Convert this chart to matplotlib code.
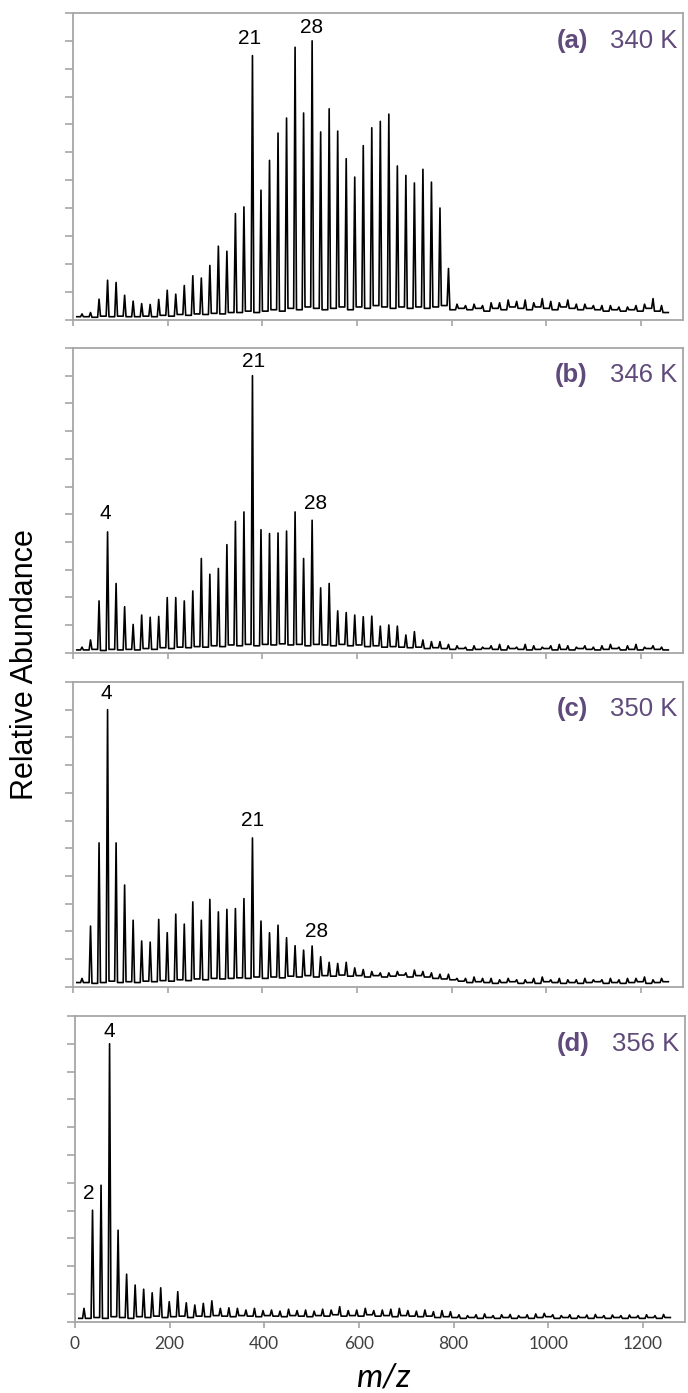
import numpy as np
import matplotlib.pyplot as plt

# water cluster size n -> m/z of (H2O)nH+
cluster_n = np.arange(1, 70)
mz_peaks = 18.01 * cluster_n + 1.01
mz_start, mz_end = 8, 1258

temps = ['340 K', '346 K', '350 K', '356 K']
tags = ['(a)', '(b)', '(c)', '(d)']

# peak heights (tick units, 0..11) for n = 1..69
peaks_340 = [0.2, 0.25, 0.73, 1.41, 1.33, 0.87, 0.66, 0.57, 0.54, 0.72,
             1.05, 0.91, 1.22, 1.57, 1.49, 1.94, 2.63, 2.45, 3.80, 4.04,
             9.47, 4.64, 5.71, 6.69, 7.23, 9.77, 7.41, 10.0, 6.73, 7.56,
             6.76, 5.77, 5.11, 6.24, 6.88, 7.11, 7.37, 5.51, 5.17, 4.90,
             5.39, 4.93, 4.00, 1.83, 0.55, 0.5, 0.55, 0.5, 0.6, 0.6,
             0.7, 0.65, 0.7, 0.6, 0.75, 0.65, 0.6, 0.7, 0.55, 0.55,
             0.5, 0.5, 0.5, 0.45, 0.45, 0.5, 0.55, 0.75, 0.5]
peaks_346 = [0.2, 0.46, 1.87, 4.36, 2.50, 1.66, 1.02, 1.36, 1.28, 1.31,
             1.99, 1.99, 1.87, 2.23, 3.40, 2.83, 3.04, 3.90, 4.74, 5.08,
             10.0, 4.44, 4.30, 4.32, 4.39, 5.08, 3.40, 4.78, 2.34, 2.50,
             1.51, 1.45, 1.36, 1.30, 1.32, 0.96, 1.0, 0.96, 0.64, 0.76,
             0.46, 0.40, 0.40, 0.3, 0.25, 0.2, 0.25, 0.2, 0.25, 0.3,
             0.25, 0.2, 0.3, 0.25, 0.2, 0.25, 0.3, 0.25, 0.2, 0.25,
             0.2, 0.25, 0.3, 0.2, 0.25, 0.3, 0.2, 0.25, 0.2]
peaks_350 = [0.3, 2.19, 5.19, 10.0, 5.19, 3.67, 2.40, 1.65, 1.61, 2.43,
             1.95, 2.62, 2.26, 3.06, 2.40, 3.15, 2.70, 2.79, 2.82, 3.18,
             5.37, 2.37, 1.95, 2.22, 1.77, 1.48, 1.32, 1.47, 1.08, 0.88,
             0.84, 0.88, 0.68, 0.62, 0.55, 0.5, 0.5, 0.55, 0.5, 0.6,
             0.55, 0.5, 0.45, 0.45, 0.3, 0.3, 0.35, 0.3, 0.3, 0.25,
             0.3, 0.25, 0.25, 0.3, 0.35, 0.25, 0.3, 0.25, 0.25, 0.3,
             0.25, 0.25, 0.3, 0.25, 0.3, 0.3, 0.35, 0.25, 0.3]
peaks_356 = [0.48, 4.01, 4.91, 10.0, 3.29, 1.71, 1.32, 1.17, 1.04, 1.22,
             0.72, 1.08, 0.68, 0.60, 0.66, 0.75, 0.48, 0.5, 0.48, 0.42,
             0.48, 0.4, 0.42, 0.38, 0.45, 0.4, 0.42, 0.38, 0.45, 0.42,
             0.54, 0.4, 0.42, 0.48, 0.4, 0.42, 0.45, 0.48, 0.4, 0.38,
             0.42, 0.36, 0.4, 0.36, 0.25, 0.22, 0.25, 0.28, 0.22, 0.25,
             0.26, 0.22, 0.25, 0.28, 0.3, 0.25, 0.22, 0.25, 0.22, 0.24,
             0.26, 0.22, 0.24, 0.22, 0.24, 0.22, 0.25, 0.22, 0.26]

# trough level after each peak
floor_340 = [0.1, 0.08, 0.12, 0.1, 0.12, 0.1, 0.1, 0.12, 0.1, 0.15,
             0.12, 0.18, 0.15, 0.2, 0.18, 0.22, 0.2, 0.25, 0.25, 0.3,
             0.25, 0.3, 0.35, 0.3, 0.4, 0.35, 0.45, 0.4, 0.35, 0.4,
             0.45, 0.35, 0.45, 0.4, 0.5, 0.45, 0.4, 0.45, 0.4, 0.45,
             0.4, 0.45, 0.5, 0.35, 0.4, 0.35, 0.4, 0.3, 0.4, 0.35,
             0.45, 0.4, 0.35, 0.45, 0.4, 0.35, 0.45, 0.4, 0.35, 0.4,
             0.35, 0.3, 0.35, 0.3, 0.35, 0.3, 0.4, 0.3, 0.25]
floor_346 = [0.1, 0.12, 0.08, 0.12, 0.1, 0.12, 0.1, 0.15, 0.12, 0.18,
             0.15, 0.2, 0.18, 0.22, 0.2, 0.25, 0.22, 0.28, 0.25, 0.3,
             0.25, 0.3, 0.28, 0.32, 0.28, 0.3, 0.25, 0.3, 0.28, 0.25,
             0.3, 0.25, 0.28, 0.22, 0.25, 0.2, 0.22, 0.2, 0.18, 0.2,
             0.15, 0.18, 0.15, 0.12, 0.15, 0.1, 0.12, 0.15, 0.12, 0.1,
             0.15, 0.12, 0.1, 0.12, 0.15, 0.1, 0.12, 0.1, 0.15, 0.12,
             0.1, 0.12, 0.15, 0.1, 0.12, 0.1, 0.15, 0.12, 0.1]
floor_350 = [0.15, 0.12, 0.15, 0.2, 0.15, 0.18, 0.15, 0.2, 0.18, 0.22,
             0.2, 0.25, 0.22, 0.28, 0.25, 0.3, 0.28, 0.3, 0.32, 0.3,
             0.35, 0.3, 0.35, 0.32, 0.38, 0.35, 0.4, 0.35, 0.4, 0.38,
             0.42, 0.38, 0.4, 0.35, 0.4, 0.35, 0.38, 0.42, 0.35, 0.4,
             0.35, 0.3, 0.28, 0.25, 0.2, 0.15, 0.18, 0.15, 0.12, 0.15,
             0.18, 0.12, 0.15, 0.12, 0.18, 0.15, 0.12, 0.15, 0.12, 0.15,
             0.18, 0.12, 0.15, 0.12, 0.15, 0.18, 0.12, 0.15, 0.18]
floor_356 = [0.12, 0.15, 0.12, 0.18, 0.15, 0.12, 0.18, 0.15, 0.2, 0.15,
             0.18, 0.2, 0.15, 0.2, 0.18, 0.22, 0.2, 0.18, 0.22, 0.2,
             0.18, 0.22, 0.2, 0.18, 0.22, 0.2, 0.18, 0.22, 0.2, 0.25,
             0.2, 0.22, 0.2, 0.25, 0.2, 0.22, 0.18, 0.22, 0.2, 0.18,
             0.2, 0.15, 0.18, 0.15, 0.12, 0.15, 0.12, 0.15, 0.12, 0.15,
             0.12, 0.15, 0.12, 0.15, 0.18, 0.12, 0.15, 0.12, 0.15, 0.12,
             0.15, 0.12, 0.15, 0.12, 0.15, 0.12, 0.15, 0.12, 0.15]

# annotated cluster sizes: (n, dx px, dy px)
labels_340 = [(21, -3, 8), (28, -1, 4)]
labels_346 = [(4, -2, 9), (21, 1, 5), (28, 3, 7)]
labels_350 = [(4, -1, 7), (21, 0, 8), (28, 4, 5)]
labels_356 = [(2, -4, 7), (4, 0, 3)]

all_peaks = [peaks_340, peaks_346, peaks_350, peaks_356]
all_floors = [floor_340, floor_346, floor_350, floor_356]
all_labels = [labels_340, labels_346, labels_350, labels_356]

grey = '#A6A6A6'
purple = '#604A7B'

fig = plt.figure(figsize=(6.88, 13.93), dpi=100)
H = 1393.0
W = 688.0
# (left px, top px, bottom px) for each panel
boxes = [(73, 13, 319.5), (73, 348, 652.7), (73, 682, 986.7), (75, 1016, 1321.7)]

for i in range(4):
    peaks = all_peaks[i]
    floors = all_floors[i]
    left, top, bot = boxes[i]
    ax = fig.add_axes([left / W, (H - bot) / H, 610 / W, (bot - top) / H])

    xs = [mz_start]
    ys = [floors[0]]
    prev = floors[0]
    for mz, p, f in zip(mz_peaks, peaks, floors):
        xs += [mz - 3, mz, mz + 3]
        ys += [prev, p, f]
        prev = f
    xs.append(mz_end)
    ys.append(prev)
    ax.plot(xs, ys, color='black', lw=1.2, zorder=3)

    for n, dx, dy in all_labels[i]:
        ax.annotate(str(n), (mz_peaks[n - 1], peaks[n - 1]), xytext=(dx, dy),
                    textcoords='offset pixels', ha='center', va='bottom',
                    fontsize=15, family='Liberation Sans', color='black')

    ax.text(0.844, 0.91, tags[i], transform=ax.transAxes, ha='right', va='center',
            fontsize=18.5, fontweight='bold', color=purple, family='Liberation Sans')
    ax.text(0.990, 0.91, temps[i], transform=ax.transAxes, ha='right', va='center',
            fontsize=18.5, color=purple, family='Liberation Sans')

    ax.set_xlim(0, 1289)
    ax.set_ylim(0, 11)
    ax.set_xticks(range(0, 1201, 200))
    ax.set_yticks(range(0, 12))
    ax.set_yticklabels([])
    for s in ax.spines.values():
        s.set_color(grey)
        s.set_linewidth(1.3)
    ax.tick_params(axis='both', direction='out', color=grey, width=1.2)
    ax.tick_params(axis='y', length=5.5)
    ax.tick_params(axis='x', length=4.5)
    if i < 3:
        ax.set_xticklabels([])
    else:
        ax.tick_params(axis='x', labelsize=12.5, labelcolor='#404040', pad=6)
        for lab in ax.get_xticklabels():
            lab.set_family('Lato')

fig.text(383 / W, (H - 1378) / H, 'm/z', ha='center', va='center', fontsize=24,
         style='italic', family='Lato')
fig.text(25 / W, (H - 665) / H, 'Relative Abundance', rotation=90, ha='center',
         va='center', fontsize=22, family='Liberation Sans')

fig.savefig('out.png', dpi=100)
